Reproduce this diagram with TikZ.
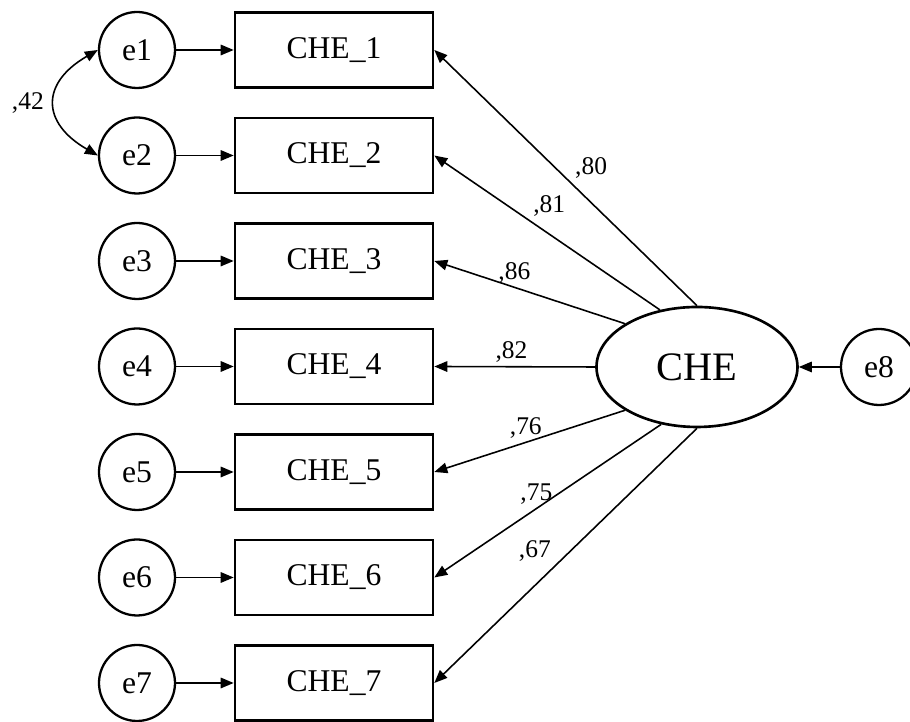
\documentclass[tikz,border=0pt]{standalone}
\usepackage{fontspec}
\setmainfont{Liberation Serif}
\usetikzlibrary{arrows.meta,shapes,positioning}
\tikzset{
    err/.style={
        circle,
        draw=black,
        line width=1.3pt,
        minimum size=1.52cm,
        inner sep=0pt,
        font=\fontsize{18}{20}\selectfont,
    },
    obs/.style={
        rectangle,
        draw=black,
        line width=1.5pt,
        minimum width=3.96cm,
        minimum height=1.5cm,
        font=\fontsize{18}{20}\selectfont,
    },
    lat/.style={
        ellipse,
        draw=black,
        line width=1.5pt,
        minimum width=4.02cm,
        minimum height=2.4cm,
        font=\fontsize{23}{26}\selectfont,
    },
    coef/.style={
        font=\fontsize{14.5}{16}\selectfont,
        inner sep=2pt,
    },
    every edge/.style={
        draw,
        ->,
        line width=0.9pt,
    },
    >={Triangle[length=2.6mm,width=2.1mm]},
    node distance=2.11cm,
  }

\begin{document}
\begin{tikzpicture}
              \useasboundingbox (0,0) rectangle (18.2,14.44);

              \node [err] (e1) at (2.74,13.44) {e1};
              \node [err,below of=e1] (e2) {e2};
              \node [err,below of=e2] (e3) {e3};
              \node [err,below of=e3] (e4) {e4};
              \node [err,below of=e4] (e5) {e5};
              \node [err,below of=e5] (e6) {e6};
              \node [err,below of=e6] (e7) {e7};

              \node [obs,right of=e1,node distance=3.94cm] (b1) {CHE\_1};
              \node [obs,right of=e2,node distance=3.94cm] (b2) {CHE\_2};
              \node [obs,right of=e3,node distance=3.94cm] (b3) {CHE\_3};
              \node [obs,right of=e4,node distance=3.94cm] (b4) {CHE\_4};
              \node [obs,right of=e5,node distance=3.94cm] (b5) {CHE\_5};
              \node [obs,right of=e6,node distance=3.94cm] (b6) {CHE\_6};
              \node [obs,right of=e7,node distance=3.94cm] (b7) {CHE\_7};

              \node [lat] (che) at (13.94,7.1) {CHE};
              \node [err,right of=che,node distance=3.64cm] (e8) {e8};

              \draw (e1) edge (b1);
              \draw (e2) edge (b2);
              \draw (e3) edge (b3);
              \draw (e4) edge (b4);
              \draw (e5) edge (b5);
              \draw (e6) edge (b6);
              \draw (e7) edge (b7);
              \draw (e8) edge (che);

              \draw (e1.west) edge[<->,out=210,in=150,looseness=1.6] node[coef,left=4pt] {,42} (e2.west);

              \draw (che.90) edge node[coef,pos=.48,above right] {,80} (b1.east);
              \draw (che.123) edge node[coef,pos=.58,above right] {,81} (b2.east);
              \draw (che.149) edge node[coef,pos=.58,above] {,86} (b3.east);
              \draw (che.west) edge node[coef,pos=.52,above] {,82} (b4.east);
              \draw (che.211) edge node[coef,pos=.52,above] {,76} (b5.east);
              \draw (che.238) edge node[coef,pos=.55,above] {,75} (b6.east);
              \draw (che.270) edge node[coef,pos=.54,above left] {,67} (b7.east);

            \end{tikzpicture}
\end{document}
